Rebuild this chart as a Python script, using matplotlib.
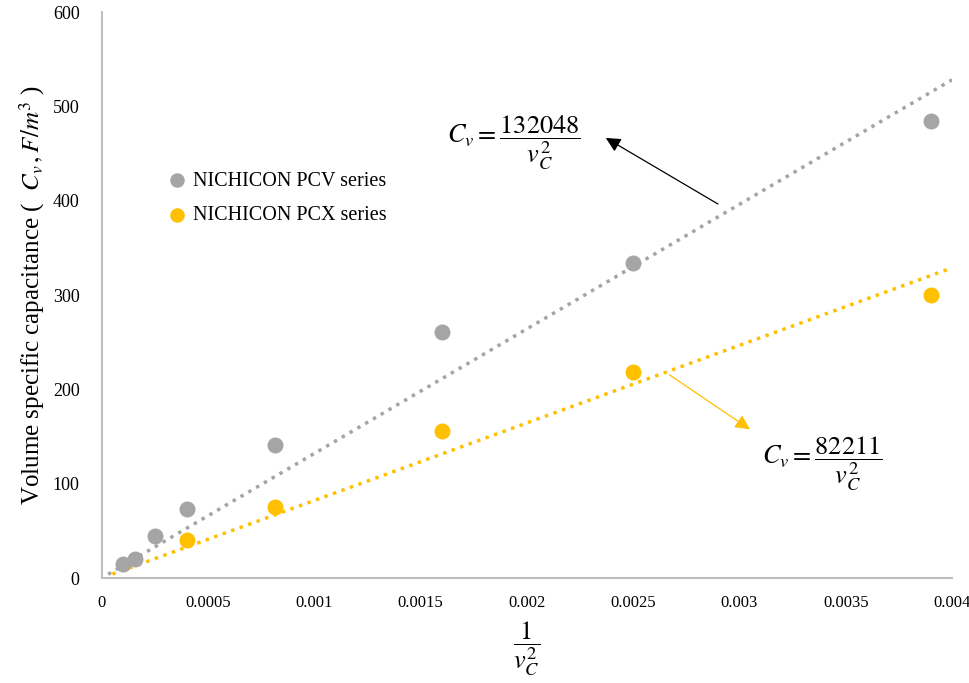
import matplotlib
matplotlib.use('Agg')
import matplotlib.pyplot as plt
import numpy as np

# ---- data ----
pcv_x = [0.0001, 0.000156, 0.00025, 0.0004, 0.000816, 0.0016, 0.0025, 0.0039]
pcv_y = [15, 20, 45, 73, 141, 261, 334, 484]
pcx_x = [0.0004, 0.000816, 0.0016, 0.0025, 0.0039]
pcx_y = [40, 75, 156, 218, 300]

pcv_slope = 132048
pcx_slope = 82211

x_ticks = [0, 0.0005, 0.001, 0.0015, 0.002, 0.0025, 0.003, 0.0035, 0.004]
x_tick_labels = ['0', '0.0005', '0.001', '0.0015', '0.002', '0.0025', '0.003', '0.0035', '0.004']
y_ticks = [0, 100, 200, 300, 400, 500, 600]

GRAY = '#A5A5A5'
GOLD = '#FFC000'

plt.rcParams['font.family'] = ['Liberation Serif', 'DejaVu Serif']
plt.rcParams['mathtext.fontset'] = 'stix'

fig = plt.figure(figsize=(9.69, 6.83), dpi=100)
ax = fig.add_axes([0.105, 0.1537, 0.8775, 0.8287])

# trendlines (zero intercept)
tx = np.array([0.00003, 0.004])
ax.plot(tx, pcv_slope * tx, color=GRAY, linestyle=(0, (1, 1.6)), linewidth=2.5, zorder=1)
tx2 = np.array([0.00005, 0.004])
ax.plot(tx2, pcx_slope * tx2, color=GOLD, linestyle=(0, (1, 1.6)), linewidth=2.5, zorder=1)

ax.scatter(pcv_x, pcv_y, s=110, color=GRAY, label='NICHICON PCV series', zorder=3)
ax.scatter(pcx_x, pcx_y, s=110, color=GOLD, label='NICHICON PCX series', zorder=3)

ax.set_xlim(0, 0.004)
ax.set_ylim(0, 600)
ax.set_xticks(x_ticks)
ax.set_xticklabels(x_tick_labels)
ax.set_yticks(y_ticks)
ax.tick_params(length=0)
ax.tick_params(axis='x', pad=12, labelsize=12)
ax.tick_params(axis='y', pad=16, labelsize=13)

for side in ['top', 'right']:
    ax.spines[side].set_visible(False)
for side in ['left', 'bottom']:
    ax.spines[side].set_color('#BFBFBF')
    ax.spines[side].set_linewidth(1.5)

ax.set_ylabel('Volume specific capacitance (  $C_v\\,,F/m^3$ )', fontsize=18, labelpad=4)
ax.set_xlabel('$\\dfrac{1}{v_C^2}$', fontsize=19, labelpad=6)

# equation annotations
ax.annotate('', xy=(0.00236, 468), xytext=(0.00291, 395),
            arrowprops=dict(arrowstyle='-|>', color='black', lw=0.9, mutation_scale=22))
ax.text(0.00194, 462, '$C_v = \\dfrac{132048}{v_C^2}$', fontsize=19, ha='center', va='center')

ax.annotate('', xy=(0.00306, 156), xytext=(0.00266, 217),
            arrowprops=dict(arrowstyle='-|>', color=GOLD, lw=0.9, mutation_scale=22))
ax.text(0.00339, 121, '$C_v = \\dfrac{82211}{v_C^2}$', fontsize=19, ha='center', va='center')

leg = ax.legend(loc='upper left', bbox_to_anchor=(0.043, 0.75), frameon=False,
                fontsize=14.5, handletextpad=-0.2, labelspacing=0.75, markerscale=0.9)

fig.savefig('out.png', dpi=100)
